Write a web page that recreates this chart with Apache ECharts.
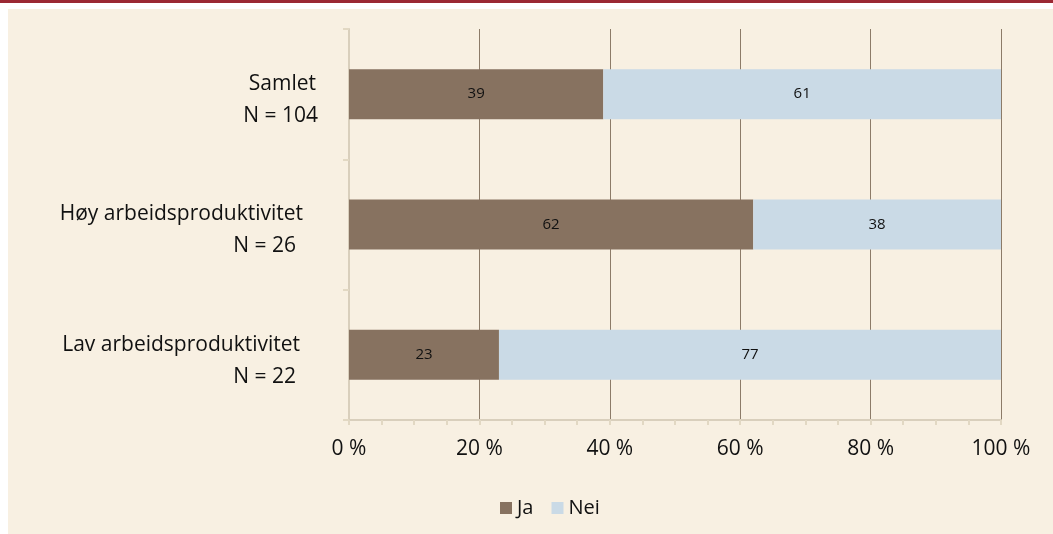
<!DOCTYPE html>
<html>
<head>
<meta charset="utf-8">
<script src="https://cdn.jsdelivr.net/npm/echarts@6/dist/echarts.min.js"></script>
<style>
html,body{margin:0;padding:0;background:#ffffff;}
#wrap{position:relative;width:1053px;height:534px;}
#topline{position:absolute;left:0;top:0;width:1053px;height:3px;background:#9b2833;}
#chart{position:absolute;left:8px;top:9px;width:1045px;height:525px;background:#f8f0e2;}
</style>
</head>
<body>
<div id="wrap"><div id="topline"></div><div id="chart"></div></div>
<script>
const categoryNames = ['Samlet', 'Høy arbeidsproduktivitet', 'Lav arbeidsproduktivitet'];
const categoryN = ['N = 104', 'N = 26', 'N = 22'];
const jaValues = [39, 62, 23];
const neiValues = [61, 38, 77];
const seriesNames = ['Ja', 'Nei'];
const xTicks = [0, 20, 40, 60, 80, 100];

const categories = categoryNames.map((c, i) => c + '\n' + categoryN[i]);
// per-line right offsets (layout only)
const linePad = [[2, 0], [15, 22], [18, 22]];

const FONT = '"Open Sans", "Noto Sans", sans-serif';
const rich = {};
linePad.forEach((p, i) => {
  rich['t' + i] = {fontSize: 21, color: '#111', fontFamily: FONT, lineHeight: 32, padding: [0, p[0], 0, 0], align: 'right'};
  rich['n' + i] = {fontSize: 21, color: '#111', fontFamily: FONT, lineHeight: 32, padding: [0, p[1], 0, 0], align: 'right'};
});

const chart = echarts.init(document.getElementById('chart'), null, {renderer: 'canvas'});
chart.setOption({
  backgroundColor: '#f8f0e2',
  animation: false,
  textStyle: {fontFamily: FONT},
  grid: {left: 341, right: 52, top: 20, bottom: 114, containLabel: false},
  legend: {
    data: seriesNames,
    left: 492, top: 489, padding: 0,
    itemWidth: 12, itemHeight: 12, itemGap: 18,
    icon: 'rect',
    textStyle: {fontSize: 20, color: '#111', fontFamily: FONT}
  },
  xAxis: {
    type: 'value', min: xTicks[0], max: xTicks[xTicks.length-1], interval: 20,
    axisLine: {show: true, lineStyle: {color: '#d9cfbc', width: 2}},
    axisTick: {show: true, length: 5, lineStyle: {color: '#e2d8c3', width: 2}},
    minorTick: {show: true, splitNumber: 4, length: 5, lineStyle: {color: '#e2d8c3', width: 2}},
    splitLine: {show: true, lineStyle: {color: '#8c7b68', width: 1}},
    axisLabel: {fontSize: 21, color: '#111', margin: 19, formatter: v => v + ' %', fontFamily: FONT}
  },
  yAxis: {
    type: 'category', data: categories, inverse: true,
    axisLine: {show: true, lineStyle: {color: '#d9cfbc', width: 2}},
    axisTick: {show: true, length: 6, lineStyle: {color: '#e2d8c3', width: 2}},
    axisLabel: {
      fontSize: 21, color: '#111', margin: 31, lineHeight: 32, padding: [12, 0, 0, 0], align: 'right', fontFamily: FONT,
      formatter: (v, idx) => {
        const parts = v.split('\n');
        return '{t' + idx + '|' + parts[0] + '}\n{n' + idx + '|' + parts[1] + '}';
      },
      rich: rich
    }
  },
  series: [
    {name: seriesNames[0], type: 'bar', stack: 'a', data: jaValues, barWidth: 50,
     itemStyle: {color: '#877260'},
     label: {show: true, position: 'inside', fontSize: 15, color: '#111', fontFamily: FONT}},
    {name: seriesNames[1], type: 'bar', stack: 'a', data: neiValues, barWidth: 50,
     itemStyle: {color: '#cadae6'},
     label: {show: true, position: 'inside', fontSize: 15, color: '#111', fontFamily: FONT}}
  ]
});
</script>
</body>
</html>
